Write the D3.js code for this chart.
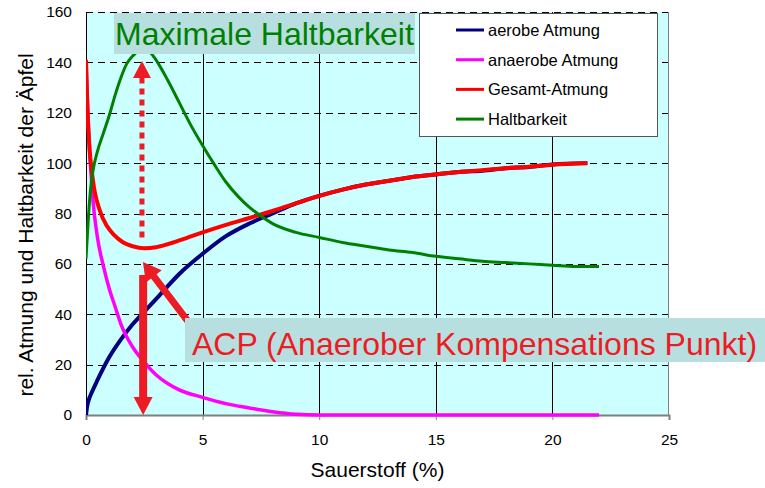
<!DOCTYPE html>
<html>
<head>
<meta charset="utf-8">
<script src="https://cdn.jsdelivr.net/npm/d3@7"></script>
<style>
  html, body { margin: 0; padding: 0; background: #ffffff; }
  svg { display: block; font-family: Arial, "Liberation Sans", sans-serif; }
</style>
</head>
<body>
<svg id="chart" width="765" height="488"></svg>
<script>
// Sauerstoff (%) sample points and the curves read at those points
const aerobeX = [0, 0.05, 0.12, 0.25, 0.5, 1, 1.5, 2, 2.5, 3, 4, 5, 6, 7, 8, 9, 10, 11, 12, 13, 14, 15, 16, 17, 18, 19, 20, 21.5];
const aerobeY = [0, 3.5, 6, 9, 14, 23, 30, 36, 41, 46, 56, 64, 71, 76, 80, 84, 87, 89.5, 91.5, 93, 94.5, 95.5, 96.5, 97, 98, 98.5, 99.5, 100];

const anaerobeX = [0, 0.1, 0.2, 0.3, 0.5, 0.75, 1, 1.25, 1.5, 2, 2.5, 3, 3.5, 4, 5, 6, 7, 8, 9, 10, 22];
const anaerobeY = [140, 115, 98, 85, 70, 59, 50, 43, 36, 27, 21, 16, 12.5, 10, 7, 4.5, 2.8, 1.3, 0.3, 0, 0];

const gesamtX = [0, 0.05, 0.13, 0.3, 0.6, 0.9, 1.2, 1.6, 2, 2.5, 3, 3.5, 4, 4.5, 5, 6, 7, 8, 9, 10, 11, 12, 13, 14, 15, 16, 17, 18, 19, 20, 21.5];
const gesamtY = [141, 125, 109, 93, 81, 75, 71.5, 68.5, 67, 66.2, 66.6, 67.8, 69.3, 70.9, 72.5, 75.5, 78.2, 81, 84, 87, 89.5, 91.5, 93, 94.5, 95.5, 96.5, 97.2, 98, 98.6, 99.4, 100];

const haltbarX = [0, 0.1, 0.2, 0.3, 0.5, 0.75, 1, 1.25, 1.5, 1.75, 2, 2.25, 2.5, 2.75, 3, 3.5, 4, 4.5, 5, 5.5, 6, 6.5, 7, 7.5, 8, 9, 10, 11, 12, 13, 14, 15, 16, 17, 18, 19, 20, 21, 22];
const haltbarY = [62, 78, 90, 97, 105, 112, 119, 127, 134, 139.5, 142.5, 144.5, 145, 144, 141, 133, 124, 115, 107, 99.5, 92.5, 87, 82.5, 79, 76, 72.5, 70.5, 68.5, 67, 65.5, 64.5, 63, 62, 61, 60.5, 60, 59.5, 59, 59];

const seriesNames = ["aerobe Atmung", "anaerobe Atmung", "Gesamt-Atmung", "Haltbarkeit"];
const seriesColors = ["#000080", "#ff00ff", "#ff0000", "#008000"];

const xTicks = [0, 5, 10, 15, 20, 25];
const yTicks = [0, 20, 40, 60, 80, 100, 120, 140, 160];

const xTitle = "Sauerstoff (%)";
const yTitle = "rel. Atmung und Haltbarkeit der Äpfel";
const titleText = "Maximale Haltbarkeit";
const acpText = "ACP (Anaerober Kompensations Punkt)";

const svg = d3.select("#chart");
const W = 765, H = 488;
const plotL = 86, plotR = 669, plotT = 12, plotB = 415;

const x = d3.scaleLinear().domain([0, 25]).range([plotL, plotR]);
const y = d3.scaleLinear().domain([0, 160]).range([plotB, plotT]);

svg.append("rect").attr("width", W).attr("height", H).attr("fill", "#ffffff");

// plot area
svg.append("rect")
  .attr("x", plotL).attr("y", plotT)
  .attr("width", plotR - plotL).attr("height", plotB - plotT)
  .attr("fill", "#ccffff");

// horizontal dashed grid
svg.append("g").selectAll("line")
  .data(yTicks.filter(d => d > 0))
  .join("line")
  .attr("x1", plotL).attr("x2", plotR)
  .attr("y1", d => Math.round(y(d)) + 0.5).attr("y2", d => Math.round(y(d)) + 0.5)
  .attr("stroke", "#000").attr("stroke-width", 1)
  .attr("stroke-dasharray", "7,5");

// vertical solid grid
svg.append("g").selectAll("line")
  .data(xTicks.filter(d => d > 0 && d < 25))
  .join("line")
  .attr("x1", d => Math.round(x(d)) + 0.5).attr("x2", d => Math.round(x(d)) + 0.5)
  .attr("y1", plotT).attr("y2", plotB)
  .attr("stroke", "#000").attr("stroke-width", 1);

// frame: left axis black, right border grey
svg.append("line")
  .attr("x1", plotL + 0.5).attr("x2", plotL + 0.5).attr("y1", plotT).attr("y2", plotB)
  .attr("stroke", "#000");
svg.append("line")
  .attr("x1", plotR - 0.5).attr("x2", plotR - 0.5).attr("y1", plotT).attr("y2", plotB)
  .attr("stroke", "#7f7f7f");

// x axis
const xAxis = d3.axisBottom(x).tickValues(xTicks).tickSize(5).tickPadding(14).tickFormat(d3.format("d"));
const gx = svg.append("g").attr("transform", `translate(0,${plotB})`).call(xAxis);
gx.select(".domain").attr("stroke", "#7f7f7f").attr("stroke-width", 2);
gx.selectAll(".tick line").attr("stroke", "#7f7f7f");
gx.selectAll(".tick text").attr("font-size", 15.5).attr("fill", "#000")
  .attr("font-family", "Arial, 'Liberation Sans', sans-serif");

// y axis labels
const yAxis = d3.axisLeft(y).tickValues(yTicks).tickSize(0).tickPadding(14).tickFormat(d3.format("d"));
const gy = svg.append("g").attr("transform", `translate(${plotL},0)`).call(yAxis);
gy.select(".domain").remove();
gy.selectAll(".tick text").attr("font-size", 15.5).attr("fill", "#000")
  .attr("font-family", "Arial, 'Liberation Sans', sans-serif");

// axis titles
svg.append("text")
  .attr("x", (plotL + plotR) / 2).attr("y", 477)
  .attr("text-anchor", "middle").attr("font-size", 21).attr("fill", "#000")
  .text(xTitle);
svg.append("text")
  .attr("transform", `translate(33,${(52 + 398) / 2}) rotate(-90)`)
  .attr("text-anchor", "middle").attr("font-size", 21).attr("fill", "#000")
  .text(yTitle);

// curves
svg.append("clipPath").attr("id", "plotclip")
  .append("rect").attr("x", plotL).attr("y", plotT - 2).attr("width", plotR - plotL).attr("height", plotB - plotT + 4);

const line = d3.line().x(d => x(d[0])).y(d => y(d[1])).curve(d3.curveMonotoneX);
const series = [
  d3.zip(aerobeX, aerobeY),
  d3.zip(anaerobeX, anaerobeY),
  d3.zip(gesamtX, gesamtY),
  d3.zip(haltbarX, haltbarY)
];
const widths = [4, 3.5, 4, 3];
const gLines = svg.append("g").attr("clip-path", "url(#plotclip)");
series.forEach((s, i) => {
  gLines.append("path")
    .attr("d", line(s))
    .attr("fill", "none")
    .attr("stroke", seriesColors[i])
    .attr("stroke-width", widths[i])
    .attr("stroke-linejoin", "round");
});

// legend
const lg = svg.append("g");
lg.append("rect").attr("x", 419.5).attr("y", 13.5).attr("width", 238).attr("height", 123)
  .attr("fill", "#ffffff").attr("stroke", "#555").attr("stroke-width", 1);
seriesNames.forEach((name, i) => {
  const cy = 30 + i * 29.7;
  lg.append("line").attr("x1", 456).attr("x2", 484).attr("y1", cy).attr("y2", cy)
    .attr("stroke", seriesColors[i]).attr("stroke-width", 3);
  lg.append("text").attr("x", 488).attr("y", cy).attr("dy", "0.36em")
    .attr("font-size", 16.5).attr("fill", "#000").text(name);
});

// arrows
const arrowRed = "#ed1c24";
function arrow(x0, y0, x1, y1, shaftW, headW, headL, dash) {
  const px0 = x(x0), py0 = y(y0), px1 = x(x1), py1 = y(y1);
  const dx = px1 - px0, dy = py1 - py0, len = Math.hypot(dx, dy);
  const ux = dx / len, uy = dy / len, nx = -uy, ny = ux;
  const bx = px1 - ux * headL, by = py1 - uy * headL;
  svg.append("line")
    .attr("x1", px0).attr("y1", py0).attr("x2", bx + ux * 1).attr("y2", by + uy * 1)
    .attr("stroke", arrowRed).attr("stroke-width", shaftW)
    .attr("stroke-dasharray", dash || null);
  svg.append("path")
    .attr("d", `M${px1},${py1}L${bx + nx * headW / 2},${by + ny * headW / 2}L${bx - nx * headW / 2},${by - ny * headW / 2}Z`)
    .attr("fill", arrowRed);
}
// maximum shelf life marker (dotted, pointing up)
arrow(2.4, 70.5, 2.4, 140.5, 5, 18, 17, "6,5");
// ACP marker (solid, pointing down to the axis)
arrow(2.45, 55.6, 2.45, 0, 8, 19, 18);
// pointer from the ACP label to the minimum of the total respiration
arrow(4.35, 37.5, 2.44, 60.7, 7, 20, 18);

// label boxes
svg.append("rect").attr("x", 114).attr("y", 13).attr("width", 301).attr("height", 41).attr("fill", "#b8dfe0");
svg.append("text").attr("x", 115).attr("y", 45).attr("font-size", 32).attr("fill", "#008000").text(titleText);

svg.append("rect").attr("x", 185).attr("y", 318).attr("width", 580).attr("height", 44).attr("fill", "#b8dfe0");
svg.append("text").attr("x", 192).attr("y", 355).attr("font-size", 32).attr("fill", "#ed1c24").text(acpText);
</script>
</body>
</html>
